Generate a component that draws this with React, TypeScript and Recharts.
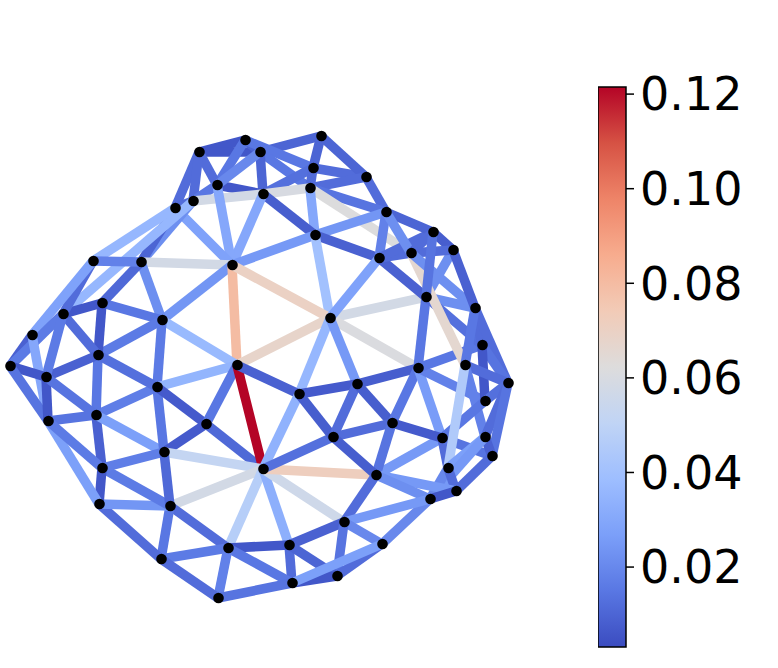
import { Bar, BarChart, Scatter, ScatterChart, XAxis, YAxis } from 'recharts';

// node layout
const nodeX = [199, 245, 260, 321, 313, 366, 310, 217, 263, 193, 175, 386, 315, 232, 379, 433, 453, 411, 426, 475, 482, 465, 418, 508, 485, 392, 442, 485, 492, 448, 376, 456, 430, 93, 141, 102, 63, 162, 32, 98, 10, 46, 157, 96, 48, 164, 102, 99, 170, 263, 344, 228, 289, 382, 161, 337, 292, 218, 330, 237, 357, 299, 206, 333];
const nodeY = [152, 140, 152, 136, 168, 177, 188, 185, 194, 201, 208, 212, 235, 265, 258, 232, 250, 253, 297, 308, 345, 365, 368, 383, 401, 423, 438, 437, 456, 468, 475, 491, 499, 261, 262, 303, 314, 320, 335, 355, 366, 377, 387, 415, 421, 452, 468, 504, 506, 469, 522, 548, 545, 544, 559, 576, 583, 598, 318, 365, 384, 394, 424, 437];

// [from, to, value]
const edges: [number, number, number][] = [
  [0, 1, 0.006], [0, 2, 0.006], [1, 2, 0.01], [1, 7, 0.015], [2, 3, 0.01], [1, 4, 0.015], [2, 6, 0.015], [4, 5, 0.012],
  [8, 4, 0.013], [8, 2, 0.01], [8, 7, 0.006], [7, 0, 0.012], [7, 2, 0.02], [0, 10, 0.012], [0, 9, 0.012], [9, 7, 0.015],
  [10, 9, 0.012], [3, 4, 0.01], [3, 5, 0.01], [4, 6, 0.012], [5, 6, 0.012], [5, 11, 0.012], [6, 11, 0.014],
  [6, 8, 0.06], [8, 9, 0.058], [6, 17, 0.062], [6, 12, 0.03], [8, 12, 0.008], [8, 13, 0.03], [7, 13, 0.03], [10, 13, 0.028],
  [9, 34, 0.022], [10, 34, 0.01], [10, 33, 0.036], [9, 36, 0.036], [12, 13, 0.025], [12, 11, 0.024], [12, 14, 0.009], [12, 58, 0.04],
  [13, 34, 0.058], [13, 37, 0.024], [13, 59, 0.08], [13, 58, 0.07], [59, 58, 0.068], [58, 18, 0.058], [58, 22, 0.061], [58, 14, 0.028],
  [58, 61, 0.036], [58, 60, 0.025], [37, 59, 0.037], [37, 34, 0.022], [37, 35, 0.015], [37, 39, 0.016], [37, 42, 0.016], [42, 59, 0.035],
  [42, 43, 0.017], [39, 43, 0.015], [39, 35, 0.006], [39, 36, 0.012], [39, 41, 0.009], [39, 42, 0.013], [35, 36, 0.006], [35, 34, 0.011],
  [33, 34, 0.018], [33, 36, 0.012], [33, 38, 0.028], [38, 40, 0.009], [36, 40, 0.016], [36, 41, 0.016], [38, 44, 0.03], [40, 41, 0.006],
  [40, 44, 0.014], [41, 44, 0.006], [41, 43, 0.014], [43, 44, 0.014], [43, 46, 0.009], [43, 45, 0.027], [42, 45, 0.015], [42, 62, 0.007],
  [45, 62, 0.007], [59, 62, 0.015], [62, 49, 0.011], [59, 49, 0.1215], [59, 61, 0.009], [45, 49, 0.052], [48, 49, 0.058], [51, 49, 0.047],
  [52, 49, 0.033], [50, 49, 0.056], [30, 49, 0.072], [61, 49, 0.034], [63, 49, 0.013], [61, 60, 0.007], [61, 63, 0.008], [60, 63, 0.012],
  [60, 25, 0.008], [60, 22, 0.008], [22, 18, 0.015], [22, 25, 0.015], [22, 26, 0.026], [22, 24, 0.018], [22, 20, 0.015], [18, 14, 0.009],
  [18, 19, 0.022], [18, 16, 0.022], [18, 20, 0.013], [14, 17, 0.012], [14, 11, 0.018], [14, 15, 0.012], [11, 15, 0.01], [11, 17, 0.022],
  [15, 16, 0.008], [15, 17, 0.012], [16, 17, 0.012], [17, 21, 0.066], [17, 19, 0.022], [16, 19, 0.009], [15, 18, 0.014], [19, 20, 0.012], [19, 23, 0.012],
  [19, 21, 0.015], [20, 23, 0.014], [20, 24, 0.006], [21, 23, 0.012], [21, 27, 0.018], [23, 24, 0.013], [23, 27, 0.012], [23, 28, 0.014],
  [24, 26, 0.015], [26, 30, 0.025], [25, 26, 0.007], [25, 63, 0.012], [25, 30, 0.014], [26, 29, 0.012], [26, 28, 0.014], [27, 28, 0.009],
  [21, 29, 0.045], [27, 29, 0.027], [28, 31, 0.012], [27, 32, 0.025], [29, 32, 0.02], [32, 53, 0.02], [29, 31, 0.012], [30, 31, 0.025], [30, 32, 0.022],
  [31, 32, 0.006], [30, 50, 0.012], [30, 63, 0.008], [32, 50, 0.025], [50, 53, 0.02], [50, 52, 0.009], [50, 55, 0.014], [52, 56, 0.012],
  [52, 51, 0.006], [52, 55, 0.01], [51, 56, 0.015], [51, 48, 0.012], [51, 54, 0.016], [51, 57, 0.018], [56, 57, 0.014], [54, 57, 0.012],
  [54, 48, 0.015], [54, 47, 0.012], [47, 48, 0.024], [46, 48, 0.016], [46, 47, 0.006], [46, 45, 0.017], [45, 48, 0.011], [47, 44, 0.027],
  [44, 46, 0.016], [56, 55, 0.006], [55, 53, 0.012], [56, 53, 0.027],
];

const colorTicks = [0.02, 0.04, 0.06, 0.08, 0.1, 0.12];
const colorMin = 0.0031;
const colorMax = 0.1215;
const coolwarm = ['#3b4cc0', '#5977e3', '#7b9ff9', '#9ebeff', '#c0d4f5', '#dddcdc', '#f2cbb7', '#f7ac8e', '#ee8468', '#d65244', '#b40426'];

const nodes = nodeX.map((x, i) => ({ x, y: nodeY[i] }));
const colorBarData = [{ name: 'value', range: [colorMin, colorMax] }];

function hexToRgb(hex: string) {
  return [1, 3, 5].map((i) => parseInt(hex.slice(i, i + 2), 16));
}

// same mapping as the colour bar
function valueColor(value: number) {
  const t = Math.min(1, Math.max(0, (value - colorMin) / (colorMax - colorMin))) * (coolwarm.length - 1);
  const i = Math.min(coolwarm.length - 2, Math.floor(t));
  const a = hexToRgb(coolwarm[i]);
  const b = hexToRgb(coolwarm[i + 1]);
  const rgb = a.map((c, k) => Math.round(c + (b[k] - c) * (t - i)));
  return `rgb(${rgb.join(',')})`;
}

function Network() {
  return (
    <ScatterChart width={778} height={668} margin={{ top: 0, right: 0, bottom: 0, left: 0 }}>
      <XAxis type="number" dataKey="x" domain={[0, 778]} hide />
      <YAxis type="number" dataKey="y" domain={[0, 668]} reversed hide />
      {edges.map(([from, to, value]) => (
        <Scatter
          key={`${from}-${to}`}
          data={[nodes[from], nodes[to]]}
          line={{ stroke: valueColor(value), strokeWidth: 9.5 }}
          shape={() => null}
          isAnimationActive={false}
        />
      ))}
      <Scatter data={nodes} fill="#000000" shape={(p: any) => <circle cx={p.cx + 0.5} cy={p.cy} r={5.3} fill="#000000" />} isAnimationActive={false} />
    </ScatterChart>
  );
}

function ColorBar() {
  return (
    <BarChart
      width={180}
      height={668}
      data={colorBarData}
      barCategoryGap={0}
      margin={{ top: 87, right: 0, bottom: 21, left: 0 }}
    >
      <defs>
        <linearGradient id="coolwarm" x1="0" y1="1" x2="0" y2="0">
          {coolwarm.map((c, i) => (
            <stop key={c} offset={i / (coolwarm.length - 1)} stopColor={c} />
          ))}
        </linearGradient>
      </defs>
      <XAxis dataKey="name" hide />
      <YAxis
        orientation="right"
        type="number"
        width={152}
        domain={[colorMin, colorMax]}
        ticks={colorTicks}
        interval={0}
        axisLine={false}
        tickLine={{ stroke: '#000000', strokeWidth: 1.5 }}
        tickSize={8}
        tickMargin={6}
        tickFormatter={(v: number) => v.toFixed(2)}
        tick={{ fill: '#000000', fontSize: 46, fontFamily: 'DejaVu Sans' }}
      />
      <Bar dataKey="range" fill="url(#coolwarm)" stroke="#000000" strokeWidth={1.5} isAnimationActive={false} />
    </BarChart>
  );
}

export default function App() {
  return (
    <div style={{ position: 'absolute', left: 0, top: 0, width: 778, height: 668, background: '#ffffff' }}>
      <div style={{ position: 'absolute', left: 0, top: 0 }}>
        <Network />
      </div>
      <div style={{ position: 'absolute', left: 598, top: 0 }}>
        <ColorBar />
      </div>
    </div>
  );
}
